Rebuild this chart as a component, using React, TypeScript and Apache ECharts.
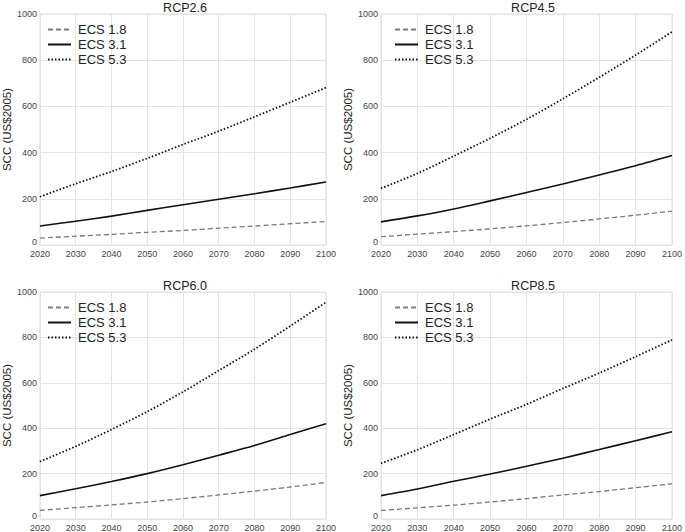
import React, { useEffect, useRef } from "react";
import * as echarts from "echarts";

const years = [2020, 2030, 2040, 2050, 2060, 2070, 2080, 2090, 2100];
const panelTitles = ["RCP2.6", "RCP4.5", "RCP6.0", "RCP8.5"];
const seriesNames = ["ECS 1.8", "ECS 3.1", "ECS 5.3"];

const rcp26_ecs18 = [30, 38, 46, 55, 63, 73, 82, 92, 102];
const rcp26_ecs31 = [82, 103, 125, 150, 174, 198, 222, 247, 273];
const rcp26_ecs53 = [209, 265, 318, 375, 435, 493, 555, 618, 681];

const rcp45_ecs18 = [36, 47, 58, 70, 83, 97, 113, 129, 147];
const rcp45_ecs31 = [100, 126, 156, 191, 227, 264, 303, 343, 387];
const rcp45_ecs53 = [245, 310, 385, 462, 544, 633, 726, 822, 923];

const rcp60_ecs18 = [38, 50, 62, 75, 90, 106, 123, 141, 161];
const rcp60_ecs31 = [103, 133, 165, 200, 239, 281, 324, 372, 420];
const rcp60_ecs53 = [253, 320, 394, 473, 560, 654, 748, 850, 955];

const rcp85_ecs18 = [38, 49, 61, 75, 90, 106, 121, 138, 155];
const rcp85_ecs31 = [103, 132, 166, 198, 232, 268, 306, 345, 384];
const rcp85_ecs53 = [245, 305, 372, 440, 505, 575, 643, 715, 789];

const panelData = [
  [rcp26_ecs18, rcp26_ecs31, rcp26_ecs53],
  [rcp45_ecs18, rcp45_ecs31, rcp45_ecs53],
  [rcp60_ecs18, rcp60_ecs31, rcp60_ecs53],
  [rcp85_ecs18, rcp85_ecs31, rcp85_ecs53],
];

const FONT = "Liberation Sans, Arial, sans-serif";

const grids = [
  { left: 34, top: 14, width: 292, height: 231 },
  { left: 381, top: 14, width: 294, height: 231 },
  { left: 34, top: 292, width: 292, height: 230 },
  { left: 381, top: 292, width: 294, height: 230 },
];

const lineStyles = [
  { color: "#7a7a7a", width: 1.3, type: [5, 3] as any },
  { color: "#111111", width: 1.6, type: "solid" as any },
  { color: "#111111", width: 1.8, type: [1.5, 2] as any },
];

export default function App() {
  const ref = useRef<HTMLDivElement>(null);
  useEffect(() => {
    if (!ref.current) return;
    const chart = echarts.init(ref.current, undefined, { renderer: "svg" });
    const option: any = {
      animation: false,
      backgroundColor: "#ffffff",
      textStyle: { fontFamily: FONT },
      title: grids.map((g, i) => ({
        text: panelTitles[i],
        left: g.left + g.width / 2,
        top: g.top - 18,
        textAlign: "center",
        textStyle: { fontSize: 12.5, fontWeight: "normal", color: "#222", fontFamily: FONT },
      })),
      legend: grids.map((g, i) => ({
        data: seriesNames,
        orient: "vertical",
        left: g.left + 8,
        top: g.top + 4,
        itemWidth: 23,
        itemHeight: 10,
        itemGap: 2,
        selectedMode: false,
        itemStyle: { opacity: 0 },
        textStyle: { fontSize: 13, color: "#222", fontFamily: FONT, padding: [0, 0, 0, 2] },
      })),
      grid: grids.map((g) => ({
        ...g,
        show: true,
        borderColor: "#e3e3e3",
        borderWidth: 1,
        containLabel: false,
      })),
      xAxis: grids.map((_, i) => ({
        type: "value",
        gridIndex: i,
        min: 2020,
        max: 2100,
        interval: 10,
        axisLine: { show: false },
        axisTick: { show: false },
        axisLabel: {
          fontSize: 9,
          color: "#444",
          margin: 4,
          fontFamily: FONT,
          formatter: (v: number) => String(v),
        },
        splitLine: { show: true, lineStyle: { color: "#e3e3e3", width: 1 } },
      })),
      yAxis: grids.map((_, i) => ({
        type: "value",
        gridIndex: i,
        min: 0,
        max: 1000,
        interval: 200,
        name: "SCC (US$2005)",
        nameLocation: "middle",
        nameGap: 22,
        nameTextStyle: { fontSize: 11.5, color: "#222", fontFamily: FONT },
        axisLine: { show: false },
        axisTick: { show: false },
        axisLabel: {
          fontSize: 9,
          color: "#444",
          margin: 3,
          fontFamily: FONT,
          formatter: (v: number) => (v === 0 ? "{z|0}" : String(v)),
          rich: { z: { fontSize: 9, color: "#444", fontFamily: FONT, padding: [0, 0, 7, 0] } },
        },
        splitLine: { show: true, lineStyle: { color: "#e3e3e3", width: 1 } },
      })),
      series: panelData.flatMap((arr, i) =>
        arr.map((vals, k) => ({
          name: seriesNames[k],
          type: "line",
          xAxisIndex: i,
          yAxisIndex: i,
          symbol: "none",
          smooth: 0.3,
          data: years.map((y, j) => [y, vals[j]]),
          lineStyle: lineStyles[k],
          itemStyle: { color: lineStyles[k].color },
        }))
      ),
    };
    chart.setOption(option);
    return () => chart.dispose();
  }, []);
  return (
    <div
      ref={ref}
      style={{ position: "fixed", left: 0, top: 0, width: 685, height: 532 }}
    />
  );
}
